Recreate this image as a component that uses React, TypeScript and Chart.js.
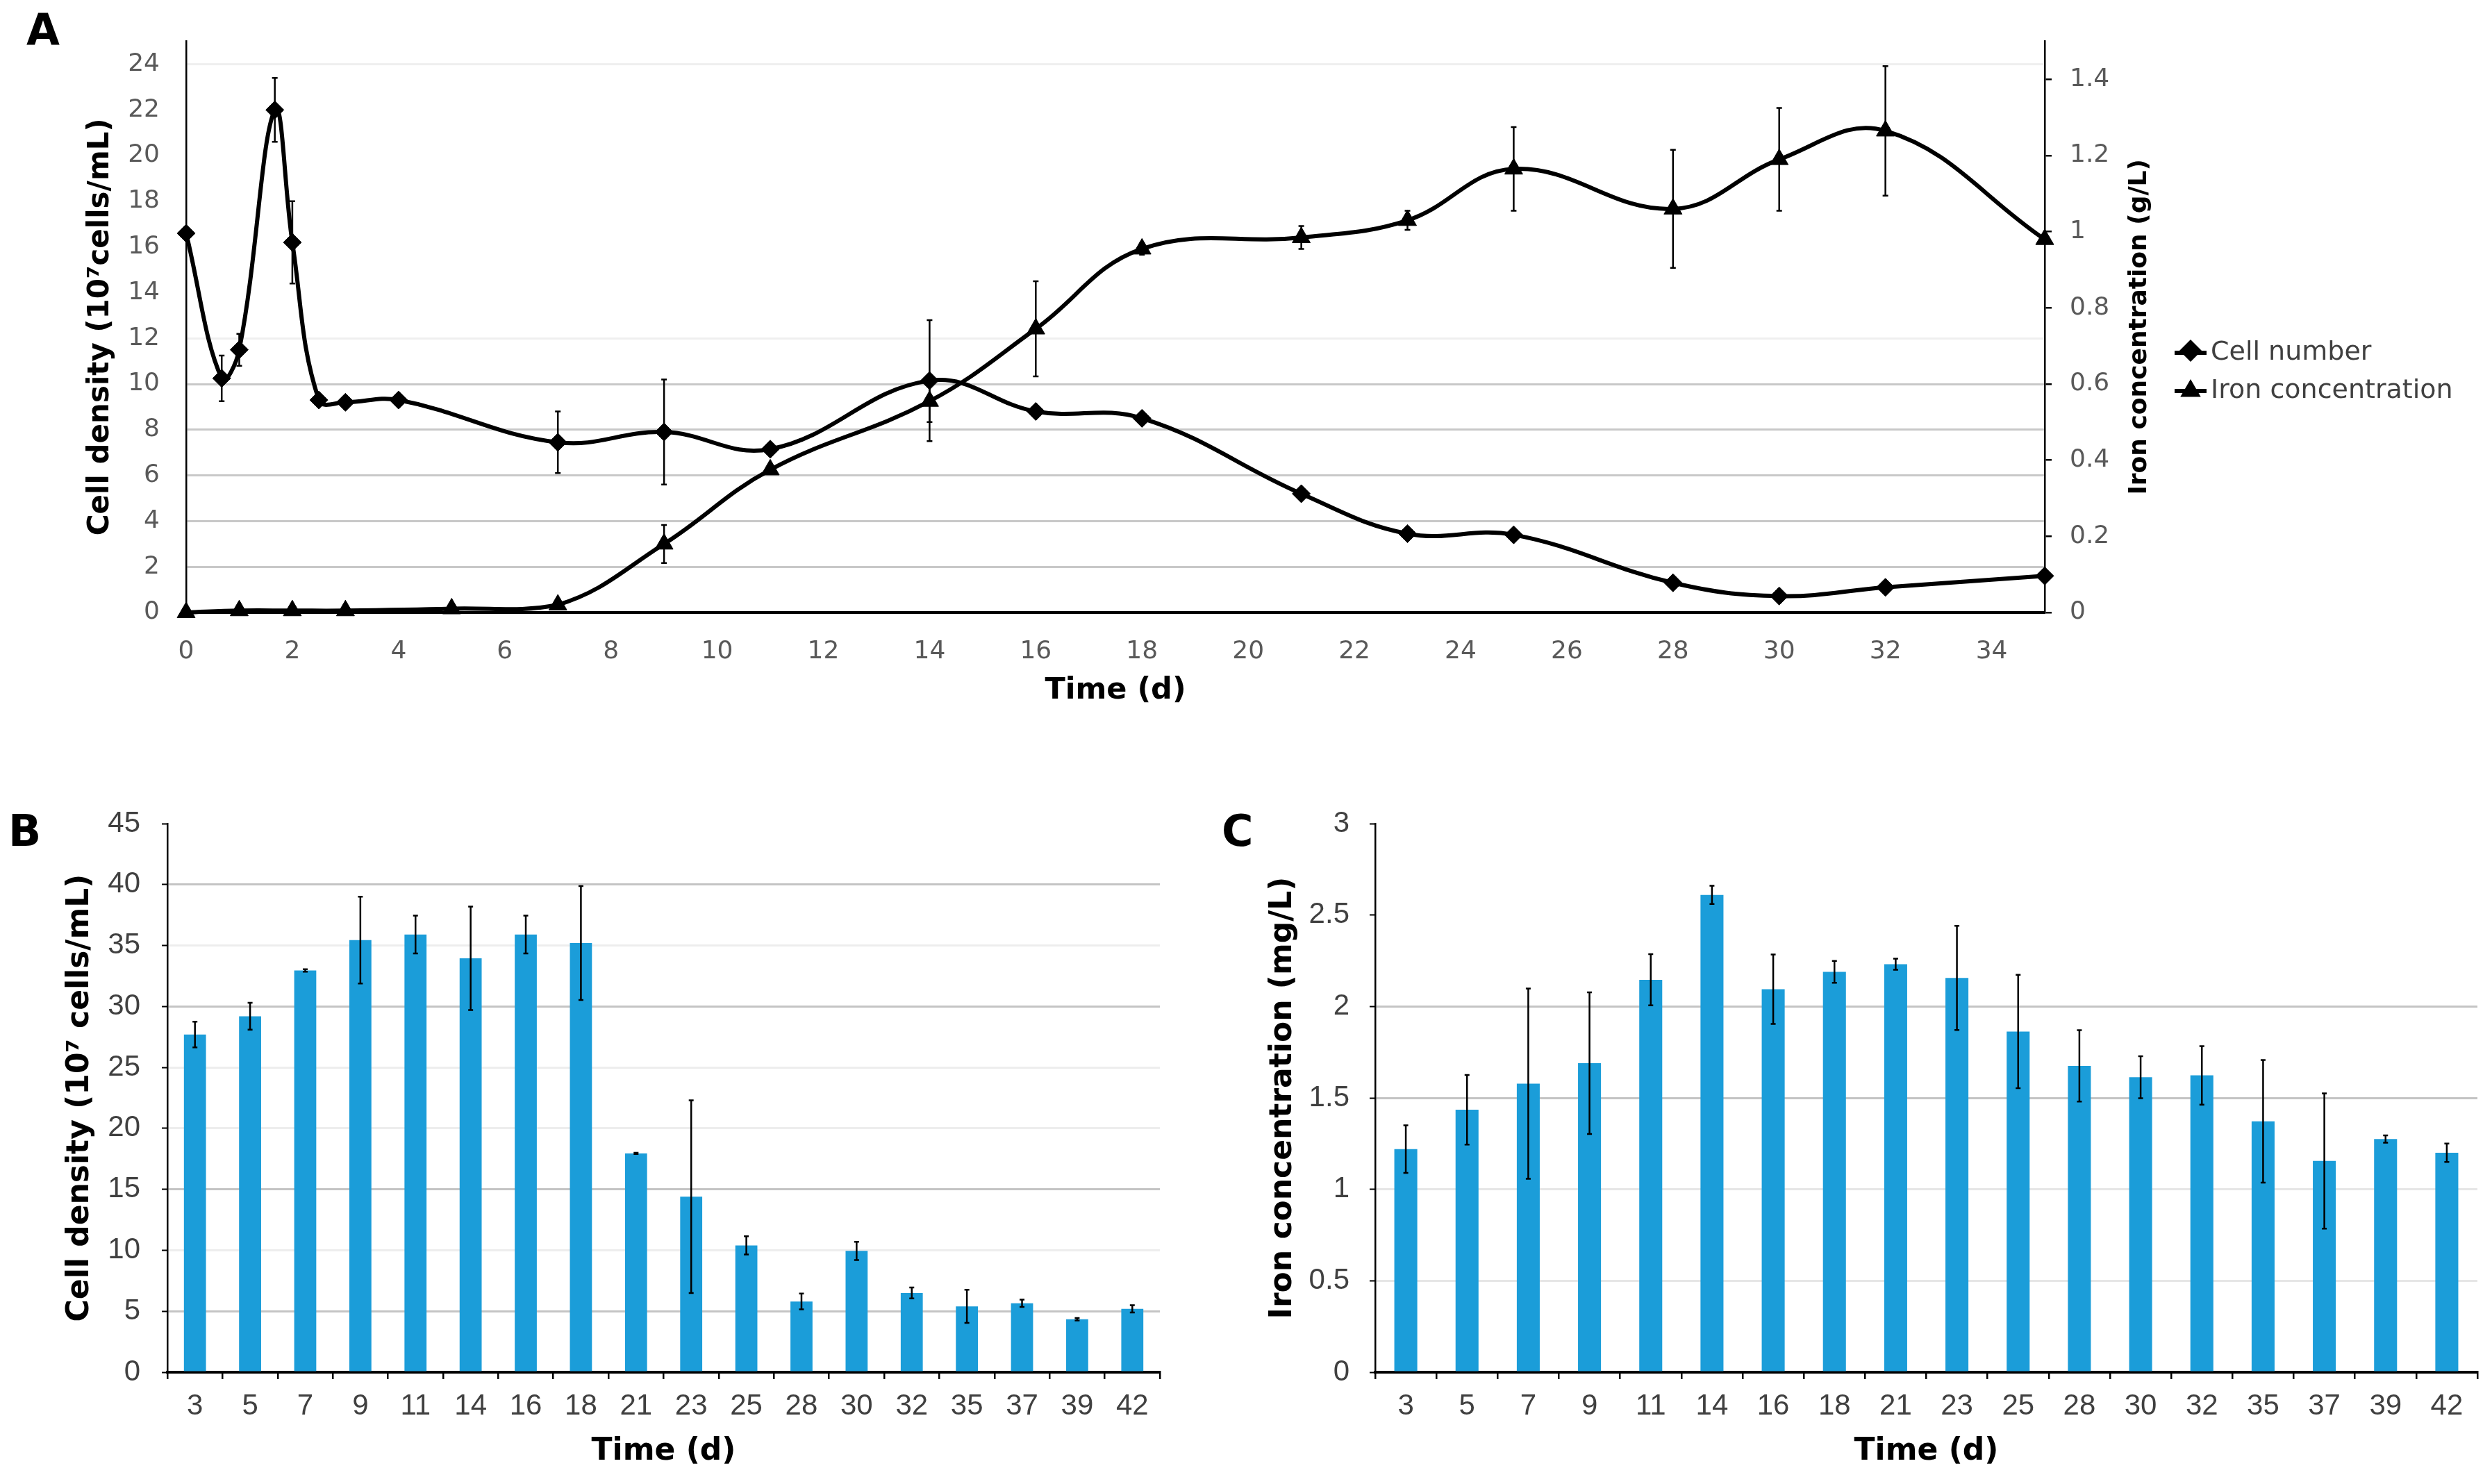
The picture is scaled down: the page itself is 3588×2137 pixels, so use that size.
import React, { useEffect, useRef } from 'react';
import { Chart, registerables } from 'chart.js';
import { drawPoint } from 'chart.js/helpers';

Chart.register(...registerables);

// ---------- Panel A data ----------
const cellDays = [0, 0.67, 1, 1.67, 2, 2.5, 3, 4, 7, 9, 11, 14, 16, 18, 21, 23, 25, 28, 30, 32, 35];
const cellNumber = [16.6, 10.25, 11.5, 22.0, 16.2, 9.3, 9.2, 9.3, 7.45, 7.9, 7.15, 10.15, 8.8, 8.5, 5.2, 3.45, 3.4, 1.3, 0.72, 1.1, 1.6];
const cellNumberErr = [0, 1.0, 0.7, 1.4, 1.8, 0, 0, 0, 1.35, 2.3, 0, 2.65, 0, 0, 0, 0, 0, 0, 0, 0, 0];

const ironDays = [0, 1, 2, 3, 5, 7, 9, 11, 14, 16, 18, 21, 23, 25, 28, 30, 32, 35];
const ironConc = [0, 0.005, 0.005, 0.005, 0.01, 0.02, 0.18, 0.375, 0.555, 0.745, 0.955, 0.985, 1.03, 1.165, 1.06, 1.19, 1.265, 0.98];
const ironConcErr = [0, 0, 0, 0, 0, 0, 0.05, 0, 0.055, 0.125, 0.015, 0.03, 0.025, 0.11, 0.155, 0.135, 0.17, 0];

const aXTitle = 'Time (d)';
const aYTitle = 'Cell density (10⁷cells/mL)';
const aY1Title = 'Iron concentration (g/L)';
const aLegend = ['Cell number', 'Iron concentration'];

// ---------- Panel B / C data ----------
const barDays = ['3', '5', '7', '9', '11', '14', '16', '18', '21', '23', '25', '28', '30', '32', '35', '37', '39', '42'];
const cellDensity = [27.7, 29.2, 32.95, 35.45, 35.9, 33.95, 35.9, 35.2, 17.95, 14.4, 10.4, 5.8, 9.95, 6.5, 5.4, 5.65, 4.35, 5.2];
const cellDensityErr = [1.05, 1.1, 0.1, 3.56, 1.55, 4.25, 1.55, 4.67, 0.05, 7.9, 0.75, 0.65, 0.75, 0.45, 1.36, 0.3, 0.1, 0.3];
const ironMg = [1.22, 1.435, 1.578, 1.69, 2.146, 2.61, 2.094, 2.189, 2.231, 2.156, 1.863, 1.675, 1.613, 1.623, 1.372, 1.155, 1.275, 1.2];
const ironMgErr = [0.13, 0.19, 0.52, 0.387, 0.14, 0.05, 0.19, 0.06, 0.03, 0.285, 0.31, 0.195, 0.115, 0.16, 0.335, 0.37, 0.02, 0.05];

const bYTitle = 'Cell density (10⁷ cells/mL)';
const cYTitle = 'Iron concentration (mg/L)';
const bcXTitle = 'Time (d)';

const BAR_BLUE = '#1B9DD9';
const TITLE_FONT = "'DejaVu Sans'";
const TICK_FONT_A = "'DejaVu Sans'";
const TICK_FONT_BC = "'Liberation Sans'";

const A_W = 3588;
const A_H = 1070;
const LEGEND_LEFT = 3127;

const errorBarPlugin = {
  id: 'errorBars',
  afterDatasetsDraw(chart: any) {
    const ctx = chart.ctx;
    chart.data.datasets.forEach((ds: any, i: number) => {
      const errs: number[] | undefined = ds.errors;
      if (!errs) return;
      const meta = chart.getDatasetMeta(i);
      const yScale = chart.scales[meta.yAxisID];
      const cap = ds.errorCap ?? 4;
      ctx.save();
      ctx.strokeStyle = '#000';
      ctx.lineWidth = ds.errorWidth ?? 2.5;
      meta.data.forEach((el: any, j: number) => {
        const e = errs[j];
        if (!e) return;
        const v = meta.controller.getParsed(j).y;
        const x = el.x;
        const yt = yScale.getPixelForValue(v + e);
        const yb = yScale.getPixelForValue(v - e);
        ctx.beginPath();
        ctx.moveTo(x, yt);
        ctx.lineTo(x, yb);
        ctx.moveTo(x - cap, yt);
        ctx.lineTo(x + cap, yt);
        ctx.moveTo(x - cap, yb);
        ctx.lineTo(x + cap, yb);
        ctx.stroke();
      });
      ctx.restore();
    });
  },
};

const rightTitlePlugin = {
  id: 'rightTitle',
  afterDraw(chart: any) {
    const s = chart.scales.y1;
    const a = chart.chartArea;
    const ctx = chart.ctx;
    ctx.save();
    ctx.translate(s.left + 137, (a.top + a.bottom) / 2);
    ctx.rotate(-Math.PI / 2);
    ctx.font = `bold 36px ${TITLE_FONT}`;
    ctx.fillStyle = '#000';
    ctx.textAlign = 'center';
    ctx.textBaseline = 'middle';
    ctx.fillText(aY1Title, 0, 0);
    ctx.restore();
  },
};

// Legend icon: short line segment with the series marker on it (like Excel)
function legendIcon(pointStyle: string, radius: number, dy: number) {
  const c = document.createElement('canvas');
  c.width = 46;
  c.height = 40;
  const ctx = c.getContext('2d')!;
  ctx.fillStyle = '#000';
  ctx.strokeStyle = '#000';
  ctx.fillRect(0, 17, 46, 6);
  drawPoint(ctx, { pointStyle, radius, borderWidth: 0, rotation: 0 } as any, 23, 20 + dy);
  return c;
}

const gridA = (c: any) => {
  const v = c.tick ? c.tick.value : 0;
  if (v <= 10) return '#c8c8c8';
  if (v === 12 || v === 24) return '#efefef';
  return 'rgba(0,0,0,0)';
};
const gridB = (c: any) => {
  const v = c.tick ? c.tick.value : 0;
  if ([5, 15, 30, 40].includes(v)) return '#c4c4c4';
  if ([10, 20, 25, 35].includes(v)) return '#ededed';
  return 'rgba(0,0,0,0)';
};
const gridC = (c: any) => {
  const v = c.tick ? Math.round(c.tick.value * 10) / 10 : 0;
  if (v === 1.5 || v === 2) return '#c4c4c4';
  if (v === 0.5 || v === 1) return '#e6e6e6';
  return 'rgba(0,0,0,0)';
};

function configA() {
  const icons = [legendIcon('rectRot', 16, -3), legendIcon('triangle', 17, 0)];
  return {
    type: 'line',
    data: {
      datasets: [
        {
          label: aLegend[0],
          data: cellDays.map((d, i) => ({ x: d, y: cellNumber[i] })),
          errors: cellNumberErr,
          errorCap: 4,
          yAxisID: 'y',
          borderColor: '#000',
          backgroundColor: '#000',
          pointBackgroundColor: '#000',
          pointBorderColor: '#000',
          borderWidth: 6,
          pointStyle: 'rectRot',
          pointRadius: 13,
          pointBorderWidth: 1,
          tension: 0.4,
          clip: false,
        },
        {
          label: aLegend[1],
          data: ironDays.map((d, i) => ({ x: d, y: ironConc[i] })),
          errors: ironConcErr,
          errorCap: 4,
          yAxisID: 'y1',
          borderColor: '#000',
          backgroundColor: '#000',
          pointBackgroundColor: '#000',
          pointBorderColor: '#000',
          borderWidth: 6,
          pointStyle: 'triangle',
          pointRadius: 15,
          pointBorderWidth: 1,
          tension: 0.4,
          clip: false,
        },
      ],
    },
    options: {
      responsive: false,
      animation: false,
      devicePixelRatio: 1,
      layout: { padding: { top: 41, right: 40, left: 0, bottom: 40 } },
      plugins: {
        legend: {
          position: 'right',
          labels: {
            usePointStyle: true,
            boxWidth: 20,
            boxHeight: 26,
            padding: 17,
            color: '#404040',
            font: { family: TICK_FONT_A, size: 38 },
            generateLabels: (chart: any) => {
              const items = (Chart.defaults.plugins.legend.labels as any).generateLabels(chart);
              items.forEach((it: any, i: number) => { it.pointStyle = icons[i]; });
              return items;
            },
          },
        },
        tooltip: { enabled: false },
      },
      scales: {
        x: {
          type: 'linear',
          min: 0,
          max: 35,
          ticks: { stepSize: 2, includeBounds: false, padding: 27, color: '#595959', font: { family: TICK_FONT_A, size: 36 } },
          grid: { display: false },
          border: { color: '#000', width: 4 },
          title: { display: true, text: aXTitle, color: '#000', font: { family: TITLE_FONT, size: 43, weight: 'bold' }, padding: { top: 0, bottom: 9 } },
          afterFit: (s: any) => { s.height = A_H - 40 - 882; },
        },
        y: {
          position: 'left',
          min: 0,
          max: 25,
          ticks: { stepSize: 2, includeBounds: false, padding: 38, color: '#595959', font: { family: TICK_FONT_A, size: 36 } },
          grid: { color: gridA, lineWidth: 3, drawTicks: false },
          border: { color: '#000', width: 2.5 },
          title: { display: true, text: aYTitle, color: '#000', font: { family: TITLE_FONT, size: 42, weight: 'bold' }, padding: { top: 120, bottom: 0 } },
          afterFit: (s: any) => { s.width = 268; },
        },
        y1: {
          position: 'right',
          min: 0,
          max: 1.5,
          ticks: {
            stepSize: 0.2,
            includeBounds: false,
            padding: 26,
            color: '#595959',
            font: { family: TICK_FONT_A, size: 36 },
            callback: (v: any) => String(Math.round(Number(v) * 10) / 10),
          },
          grid: { drawOnChartArea: false, tickLength: 10, color: '#000', lineWidth: 2.5 },
          border: { color: '#000', width: 2.5 },
          afterFit: (s: any) => { s.width = 183; },
        },
      },
    },
    plugins: [errorBarPlugin, rightTitlePlugin],
  };
}

function configBar(labels: string[], values: number[], errs: number[], opts: any) {
  return {
    type: 'bar',
    data: {
      labels,
      datasets: [
        {
          data: values,
          errors: errs,
          errorCap: 3.5,
          errorWidth: 2.5,
          backgroundColor: BAR_BLUE,
          borderWidth: 0,
          categoryPercentage: 1,
          barPercentage: opts.barPct,
        },
      ],
    },
    options: {
      responsive: false,
      animation: false,
      devicePixelRatio: 1,
      layout: { padding: { top: 66, right: opts.padRight, left: 0, bottom: 0 } },
      plugins: { legend: { display: false }, tooltip: { enabled: false } },
      scales: {
        x: {
          type: 'category',
          offset: true,
          ticks: { padding: 14, color: '#404040', font: { family: TICK_FONT_BC, size: 42 }, maxRotation: 0, autoSkip: false },
          grid: { offset: true, drawOnChartArea: false, tickLength: 10, color: '#000', lineWidth: 2.5 },
          border: { color: '#000', width: 4 },
          title: { display: true, text: bcXTitle, color: '#000', font: { family: TITLE_FONT, size: 44, weight: 'bold' }, padding: { top: 0, bottom: 20 } },
          afterFit: (s: any) => { s.height = 161; },
        },
        y: {
          min: 0,
          max: opts.max,
          ticks: {
            stepSize: opts.step,
            padding: opts.tickPad,
            color: '#404040',
            font: { family: TICK_FONT_BC, size: 42 },
            callback: (v: any) => String(Math.round(Number(v) * 10) / 10),
          },
          grid: { color: opts.grid, lineWidth: 3, tickLength: 8, tickColor: '#000', tickWidth: 2 },
          border: { color: '#000', width: 2.5 },
          title: { display: true, text: opts.title, color: '#000', font: { family: TITLE_FONT, size: 44, weight: 'bold' }, padding: { top: opts.titlePad, bottom: 0 } },
          afterFit: (s: any) => { s.width = opts.axisW; },
        },
      },
    },
    plugins: [errorBarPlugin],
  };
}

const letterStyle = (left: number, top: number): React.CSSProperties => ({
  position: 'absolute',
  left,
  top,
  fontFamily: TITLE_FONT,
  fontWeight: 'bold',
  fontSize: 62,
  lineHeight: 1,
  color: '#000',
  zIndex: 2,
});

export default function App() {
  const refA = useRef<HTMLCanvasElement>(null);
  const refB = useRef<HTMLCanvasElement>(null);
  const refC = useRef<HTMLCanvasElement>(null);

  useEffect(() => {
    if (!refA.current) return;
    const chart: any = new Chart(refA.current, configA() as any);
    // second pass: place the legend's left edge where the reference has it
    const lw = chart.legend ? chart.legend.width : 420;
    chart.options.layout.padding = { top: 41, right: Math.max(0, A_W - LEGEND_LEFT - lw), left: 0, bottom: 40 };
    chart.update();
    return () => chart.destroy();
  }, []);

  useEffect(() => {
    if (!refB.current) return;
    const chart = new Chart(
      refB.current,
      configBar(barDays, cellDensity, cellDensityErr, {
        barPct: 0.4, padRight: 30, max: 45, step: 5, tickPad: 31, grid: gridB, title: bYTitle, titlePad: 89, axisW: 241,
      }) as any
    );
    return () => chart.destroy();
  }, []);

  useEffect(() => {
    if (!refC.current) return;
    const chart = new Chart(
      refC.current,
      configBar(barDays, ironMg, ironMgErr, {
        barPct: 0.375, padRight: 21, max: 3, step: 0.5, tickPad: 29, grid: gridC, title: cYTitle, titlePad: 101, axisW: 260,
      }) as any
    );
    return () => chart.destroy();
  }, []);

  return (
    <div style={{ position: 'absolute', left: 0, top: 0, width: 3588, height: 2137, background: '#fff', overflow: 'hidden' }}>
      <canvas ref={refA} width={A_W} height={A_H} style={{ position: 'absolute', left: 0, top: 0, width: A_W, height: A_H }} />
      <canvas ref={refB} width={1700} height={1017} style={{ position: 'absolute', left: 0, top: 1120, width: 1700, height: 1017 }} />
      <canvas ref={refC} width={1868} height={1017} style={{ position: 'absolute', left: 1720, top: 1120, width: 1868, height: 1017 }} />
      <div style={letterStyle(38, 12)}>A</div>
      <div style={letterStyle(12, 1166)}>B</div>
      <div style={letterStyle(1759, 1166)}>C</div>
    </div>
  );
}
